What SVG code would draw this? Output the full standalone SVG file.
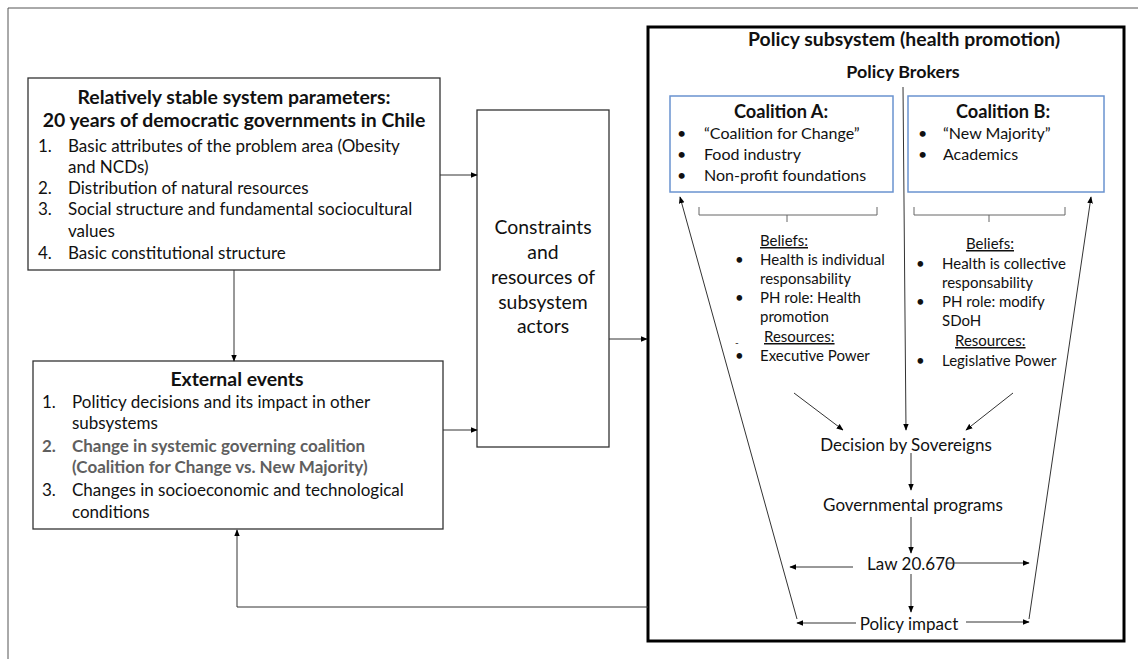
<svg xmlns="http://www.w3.org/2000/svg" width="1138" height="659" viewBox="0 0 1138 659">
<defs>
<marker id="ah" viewBox="0 0 10 10" refX="9" refY="5" markerWidth="7" markerHeight="7" markerUnits="userSpaceOnUse" orient="auto">
<path d="M0,1 L10,5 L0,9 z" fill="#000"/>
</marker>
<style>
text{font-family:Lato,"Liberation Sans",sans-serif;fill:#111;}
.t{font-size:19.4px;font-weight:bold;}
.b{font-size:17px;}
.s{font-size:15px;}
.k{font-size:16px;}
.m{font-size:17px;}
.c{text-anchor:middle;}
.box{fill:#fff;stroke:#333;stroke-width:1.3;}
.blue{fill:#fff;stroke:#6a93cf;stroke-width:1.5;}
.ln{fill:none;stroke:#666;stroke-width:1;}
.ar{fill:none;stroke:#333;stroke-width:1;marker-end:url(#ah);}
.u{text-decoration:underline;}
.g{font-weight:bold;fill:#5f5f5f;}
</style>
</defs>
<rect width="1138" height="659" fill="#fff"/>
<path d="M8,659 V8 H1138" fill="none" stroke="#555" stroke-width="1"/>

<g id="stable-params">
<rect class="box" x="28" y="78" width="412" height="192"/>
<text class="t c" x="234" y="104">Relatively stable system parameters:</text>
<text class="t c" x="234" y="127">20 years of democratic governments in Chile</text>
<text class="b" x="38" y="152">1.</text><text class="b" x="68" y="152">Basic attributes of the problem area (Obesity</text>
<text class="b" x="68" y="173">and NCDs)</text>
<text class="b" x="38" y="194">2.</text><text class="b" x="68" y="194">Distribution of natural resources</text>
<text class="b" x="38" y="215">3.</text><text class="b" x="68" y="215">Social structure and fundamental sociocultural</text>
<text class="b" x="68" y="237">values</text>
<text class="b" x="38" y="259">4.</text><text class="b" x="68" y="259">Basic constitutional structure</text>
</g>

<g id="external-events">
<rect class="box" x="33" y="361" width="410" height="168"/>
<text class="t c" x="237" y="386">External events</text>
<text class="b" x="42" y="408">1.</text><text class="b" x="72" y="408">Politicy decisions and its impact in other</text>
<text class="b" x="72" y="429">subsystems</text>
<text class="b g" x="42" y="452">2.</text><text class="b g" x="72" y="452">Change in systemic governing coalition</text>
<text class="b g" x="72" y="473">(Coalition for Change vs. New Majority)</text>
<text class="b" x="42" y="496">3.</text><text class="b" x="72" y="496">Changes in socioeconomic and technological</text>
<text class="b" x="72" y="518">conditions</text>
</g>

<g id="constraints">
<rect class="box" x="477" y="110" width="132" height="337"/>
<text class="c" x="543" y="234" style="font-size:19.4px">Constraints</text>
<text class="c" x="543" y="259" style="font-size:19.4px">and</text>
<text class="c" x="543" y="284" style="font-size:19.4px">resources of</text>
<text class="c" x="543" y="309" style="font-size:19.4px">subsystem</text>
<text class="c" x="543" y="333" style="font-size:19.4px">actors</text>
</g>

<g id="policy-subsystem">
<rect x="648" y="27" width="476" height="614" fill="#fff" stroke="#000" stroke-width="3"/>
<text class="t c" x="904" y="46">Policy subsystem (health promotion)</text>
<text class="t c" x="903" y="78" style="font-size:17.9px">Policy Brokers</text>
</g>

<g id="coalition-a">
<rect class="blue" x="670" y="96" width="223" height="96"/>
<text class="t c" x="781" y="118" style="font-size:18.2px">Coalition A:</text>
<text class="k" x="677" y="139">•</text><text class="k" x="704" y="139">“Coalition for Change”</text>
<text class="k" x="677" y="160">•</text><text class="k" x="704" y="160">Food industry</text>
<text class="k" x="677" y="181">•</text><text class="k" x="704" y="181">Non-profit foundations</text>
</g>

<g id="coalition-b">
<rect class="blue" x="908" y="96" width="196" height="96"/>
<text class="t c" x="1003" y="118" style="font-size:18.2px">Coalition B:</text>
<text class="k" x="918" y="139">•</text><text class="k" x="943" y="139">“New Majority”</text>
<text class="k" x="918" y="160">•</text><text class="k" x="943" y="160">Academics</text>
</g>

<g id="beliefs-a">
<path class="ln" d="M699,207 V215 H877 V207 M787,215 V222"/>
<text class="s u" x="760" y="246">Beliefs:</text>
<text class="s" x="735" y="265">•</text><text class="s" x="760" y="265">Health is individual</text>
<text class="s" x="760" y="284">responsability</text>
<text class="s" x="735" y="303">•</text><text class="s" x="760" y="303">PH role: Health</text>
<text class="s" x="760" y="322">promotion</text>
<text class="s u" x="764" y="342">Resources:</text>
<text x="735" y="346" style="font-size:10px">-</text>
<text class="s" x="735" y="361">•</text><text class="s" x="760" y="361">Executive Power</text>
</g>

<g id="beliefs-b">
<path class="ln" d="M914,207 V215 H1065 V207 M989,215 V222"/>
<text class="s u" x="966" y="249">Beliefs:</text>
<text class="s" x="916" y="269">•</text><text class="s" x="942" y="269">Health is collective</text>
<text class="s" x="942" y="288">responsability</text>
<text class="s" x="916" y="307">•</text><text class="s" x="942" y="307">PH role: modify</text>
<text class="s" x="942" y="326">SDoH</text>
<text class="s u" x="955" y="346">Resources:</text>
<text class="s" x="916" y="366">•</text><text class="s" x="942" y="366">Legislative Power</text>
</g>

<g id="decision">
<text class="m c" x="906" y="451">Decision by Sovereigns</text>
</g>
<g id="programs">
<text class="m c" x="913" y="511">Governmental programs</text>
</g>
<g id="law">
<text class="m c" x="911" y="570">Law 20.670</text>
</g>
<g id="impact">
<text class="m c" x="909" y="630">Policy impact</text>
</g>

<g id="connectors">
<path class="ar" d="M440,175 H477"/>
<path class="ar" d="M234,270 V361"/>
<path class="ar" d="M443,430 H477"/>
<path class="ar" d="M609,339 H647"/>
<path class="ar" d="M648,607 H237 V530"/>
<path class="ar" d="M903,87 L906,430"/>
<path class="ar" d="M794,393 L843,430"/>
<path class="ar" d="M1013,393 L966,430"/>
<path class="ar" d="M911,453 V490"/>
<path class="ar" d="M911,517 V553"/>
<path class="ar" d="M911,574 V612"/>
<path class="ar" d="M853,567 H790"/>
<path class="ar" d="M947,563 H1029"/>
<path class="ar" d="M856,623 H797"/>
<path class="ar" d="M966,622 H1029"/>
<path class="ar" d="M797,619 L680,197"/>
<path class="ar" d="M1029,619 L1091,197"/>
</g>
</svg>
